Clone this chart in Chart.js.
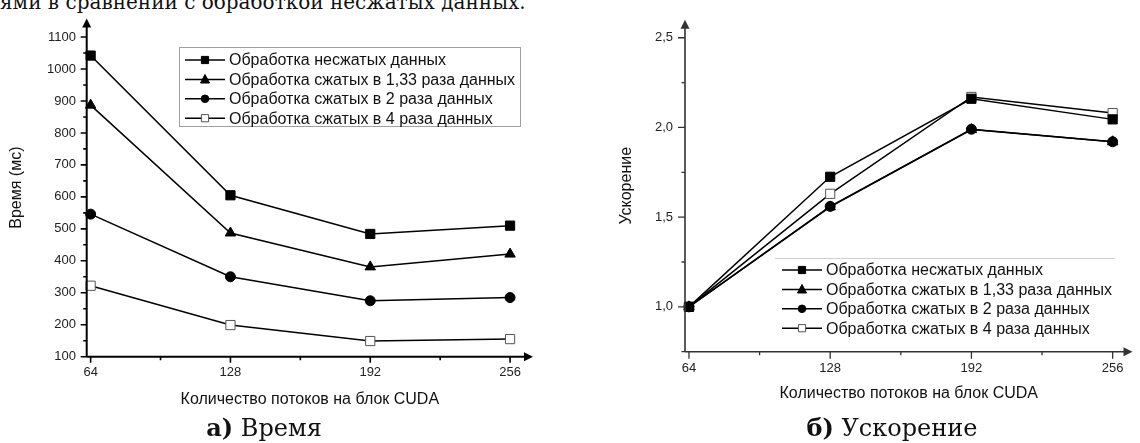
<!DOCTYPE html>
<html>
<head>
<meta charset="utf-8">
<script src="https://cdn.jsdelivr.net/npm/chart.js"></script>
<style>
  html, body { margin: 0; padding: 0; background: #fff; }
  #wrap { position: relative; width: 1140px; height: 443px; overflow: hidden; }
  canvas { position: absolute; top: 0; }
  #grafTiempo { left: 0; }
  #grafAcel { left: 570px; }
  .arriba { position: absolute; left: 0; top: -8px; font: 20px/20px "DejaVu Serif", serif; color: #111; white-space: nowrap; }
  .pie { position: absolute; top: 416px; font: 24px/24px "DejaVu Serif", serif; color: #111; white-space: nowrap; transform: translateX(-50%); }
  .pie b { font-weight: bold; }
</style>
</head>
<body>
<div id="wrap">
  <div class="arriba">ями в сравнении с обработкой несжатых данных.</div>
  <canvas id="grafTiempo" width="570" height="443"></canvas>
  <canvas id="grafAcel" width="570" height="443"></canvas>
  <div class="pie" style="left:264px"><b>а)</b> Время</div>
  <div class="pie" style="left:892px"><b>б)</b> Ускорение</div>
</div>
<script>
// datos
const threads = [64, 128, 192, 256];
const seriesLabels = [
  'Обработка несжатых данных',
  'Обработка сжатых в 1,33 раза данных',
  'Обработка сжатых в 2 раза данных',
  'Обработка сжатых в 4 раза данных'
];
const timeRaw = [1042, 605, 484, 510];
const time133 = [887, 487, 381, 421];
const time2 = [546, 350, 275, 285];
const time4 = [322, 199, 149, 155];

const speedRaw = [1.0, 1.725, 2.16, 2.045];
const speed133 = [1.0, 1.557, 1.988, 1.92];
const speed2 = [1.0, 1.56, 1.99, 1.92];
const speed4 = [1.0, 1.63, 2.17, 2.08];

const threadMajor = [64, 128, 192, 256];
const threadMinor = [96, 160, 224];
const timeMajor = [100, 200, 300, 400, 500, 600, 700, 800, 900, 1000, 1100];
const timeMinor = [150, 250, 350, 450, 550, 650, 750, 850, 950, 1050];
const speedMajor = [1.0, 1.5, 2.0, 2.5];
const speedMinor = [0.75, 1.25, 1.75, 2.25];

const FONT = '"Liberation Sans", Arial, sans-serif';

const estilos = [
  { pointStyle: 'rect', pointRadius: 6.5, pointBackgroundColor: '#000', pointBorderColor: '#000', order: 1 },
  { pointStyle: 'triangle', pointRadius: 6, pointBackgroundColor: '#000', pointBorderColor: '#000', order: 2 },
  { pointStyle: 'circle', pointRadius: 5, pointBackgroundColor: '#000', pointBorderColor: '#000', order: 0 },
  { pointStyle: 'rect', pointRadius: 6.5, pointBackgroundColor: '#fff', pointBorderColor: '#555', order: 3 }
];

function armarDatasets(series) {
  return series.map((vals, i) => Object.assign({
    label: seriesLabels[i],
    data: vals.map((v, k) => ({ x: threads[k], y: v })),
    borderColor: '#000',
    borderWidth: 1.5,
    pointBorderWidth: 1,
    tension: 0,
    clip: false
  }, estilos[i]));
}

function marcador(ctx, st, x, y, r, fill, stroke) {
  ctx.fillStyle = fill;
  ctx.strokeStyle = stroke;
  ctx.lineWidth = 1;
  ctx.beginPath();
  if (st === 'rect') {
    ctx.rect(x - r, y - r, 2 * r, 2 * r);
  } else if (st === 'triangle') {
    ctx.moveTo(x, y - r * 1.1);
    ctx.lineTo(x + r, y + r * 0.8);
    ctx.lineTo(x - r, y + r * 0.8);
    ctx.closePath();
  } else {
    ctx.arc(x, y, r, 0, Math.PI * 2);
  }
  ctx.fill();
  ctx.stroke();
}

// ejes con flechas y marcas menores
const ejesPlugin = {
  id: 'ejes',
  afterDraw(chart, args, o) {
    const ctx = chart.ctx;
    const a = chart.chartArea;
    const xs = chart.scales.x, ys = chart.scales.y;
    ctx.save();
    ctx.strokeStyle = o.color;
    ctx.fillStyle = o.color;
    ctx.lineWidth = o.width;
    ctx.beginPath();
    ctx.moveTo(a.left, a.bottom);
    ctx.lineTo(a.left, a.top + 4);
    ctx.moveTo(a.left, a.bottom);
    ctx.lineTo(a.right - 4, a.bottom);
    ctx.stroke();
    ctx.lineWidth = o.tickWidth;
    ctx.beginPath();
    o.xMajor.forEach(v => { const p = xs.getPixelForValue(v); ctx.moveTo(p, a.bottom); ctx.lineTo(p, a.bottom + o.major); });
    o.xMinor.forEach(v => { const p = xs.getPixelForValue(v); ctx.moveTo(p, a.bottom); ctx.lineTo(p, a.bottom + o.minor); });
    o.yMajor.forEach(v => { const p = ys.getPixelForValue(v); ctx.moveTo(a.left, p); ctx.lineTo(a.left - o.major, p); });
    o.yMinor.forEach(v => { const p = ys.getPixelForValue(v); ctx.moveTo(a.left, p); ctx.lineTo(a.left - o.minor, p); });
    ctx.stroke();
    // flechas
    ctx.beginPath();
    ctx.moveTo(a.left, a.top);
    ctx.lineTo(a.left + 4.5, a.top + 9);
    ctx.lineTo(a.left - 4.5, a.top + 9);
    ctx.closePath();
    ctx.moveTo(a.right, a.bottom);
    ctx.lineTo(a.right - 9, a.bottom - 4.5);
    ctx.lineTo(a.right - 9, a.bottom + 4.5);
    ctx.closePath();
    ctx.fill();
    ctx.restore();
  }
};

const leyendaPlugin = {
  id: 'leyenda',
  afterDraw(chart, args, o) {
    const ctx = chart.ctx;
    ctx.save();
    if (o.box) {
      ctx.strokeStyle = '#a0a0a0';
      ctx.lineWidth = 1;
      ctx.strokeRect(o.box[0] + 0.5, o.box[1] + 0.5, o.box[2], o.box[3]);
    }
    if (o.topLine) {
      ctx.strokeStyle = '#d0d0d0';
      ctx.lineWidth = 1;
      ctx.beginPath();
      ctx.moveTo(o.topLine[0], o.topLine[2] + 0.5);
      ctx.lineTo(o.topLine[1], o.topLine[2] + 0.5);
      ctx.stroke();
    }
    ctx.font = '16px ' + FONT;
    ctx.textBaseline = 'middle';
    ctx.textAlign = 'left';
    chart.data.datasets.forEach((ds, i) => {
      const y = o.y0 + i * o.dy;
      ctx.strokeStyle = '#000';
      ctx.lineWidth = 1.5;
      ctx.beginPath();
      ctx.moveTo(o.x0, y);
      ctx.lineTo(o.x0 + 40, y);
      ctx.stroke();
      const r = ds.pointStyle === 'circle' ? 3.8 : (ds.pointStyle === 'triangle' ? 4.5 : 3.6);
      marcador(ctx, ds.pointStyle, o.x0 + 20, y, r, ds.pointBackgroundColor, ds.pointBorderColor);
      ctx.fillStyle = '#111';
      ctx.fillText(ds.label, o.x0 + 44, y + 1);
    });
    ctx.restore();
  }
};

function armarGrafico(id, cfg) {
  const xTicks = cfg.xMajor.concat(cfg.xMinor).sort((a, b) => a - b);
  const yTicks = cfg.yMajor.concat(cfg.yMinor).sort((a, b) => a - b);
  return new Chart(document.getElementById(id), {
    type: 'line',
    data: { datasets: armarDatasets(cfg.series) },
    plugins: [ejesPlugin, leyendaPlugin],
    options: {
      responsive: false,
      animation: false,
      events: [],
      layout: { padding: { left: 0, top: 13, right: cfg.padRight, bottom: 0 } },
      plugins: {
        legend: { display: false },
        tooltip: { enabled: false },
        ejes: cfg.ejes,
        leyenda: cfg.leyenda
      },
      scales: {
        x: {
          type: 'linear',
          min: cfg.xMin,
          max: cfg.xMax,
          afterBuildTicks: s => { s.ticks = xTicks.map(v => ({ value: v })); },
          afterFit: s => { s.height = cfg.xHeight; },
          grid: { display: false, drawTicks: false },
          border: { display: false },
          ticks: {
            autoSkip: false,
            maxRotation: 0,
            padding: cfg.xPad,
            color: '#222',
            font: { family: FONT, size: 13 },
            callback: v => cfg.xMajor.includes(v) ? String(v) : ''
          },
          title: {
            display: true,
            text: 'Количество потоков на блок CUDA',
            color: '#111',
            font: { family: FONT, size: 16 },
            padding: { top: 0, bottom: cfg.xTitlePad }
          }
        },
        y: {
          type: 'linear',
          min: cfg.yMin,
          max: cfg.yMax,
          afterBuildTicks: s => { s.ticks = yTicks.map(v => ({ value: v })); },
          afterFit: s => { s.width = cfg.yWidth; },
          grid: { display: false, drawTicks: false },
          border: { display: false },
          ticks: {
            autoSkip: false,
            padding: cfg.yPad,
            color: '#222',
            font: { family: FONT, size: 13 },
            callback: v => cfg.yMajor.some(m => Math.abs(m - v) < 1e-6) ? cfg.fmt(v) : ''
          },
          title: {
            display: true,
            text: cfg.yTitle,
            color: '#111',
            font: { family: FONT, size: 16 },
            padding: { top: cfg.yTitlePad, bottom: 0 }
          }
        }
      }
    }
  });
}

armarGrafico('grafTiempo', {
  series: [timeRaw, time133, time2, time4],
  xMajor: threadMajor, xMinor: threadMinor,
  yMajor: timeMajor, yMinor: timeMinor,
  xMin: 62.2, xMax: 266.5, yMin: 100, yMax: 1158,
  padRight: 37, xHeight: 86.3, yWidth: 86.7,
  xPad: 8, yPad: 10.7, xTitlePad: 33.4, yTitlePad: 7.4,
  yTitle: 'Время (мс)',
  fmt: v => String(v),
  ejes: { color: '#000', width: 2, tickWidth: 1.6, major: 6, minor: 3.5, xMajor: threadMajor, xMinor: threadMinor, yMajor: timeMajor, yMinor: timeMinor },
  leyenda: { box: [179, 47, 341, 79], x0: 185, y0: 60, dy: 19.4 }
});

armarGrafico('grafAcel', {
  series: [speedRaw, speed133, speed2, speed4],
  xMajor: threadMajor, xMinor: threadMinor,
  yMajor: speedMajor, yMinor: speedMinor,
  xMin: 62.2, xMax: 265, yMin: 0.75, yMax: 2.6,
  padRight: 0, xHeight: 91.3, yWidth: 115,
  xPad: 9, yPad: 12, xTitlePad: 39.4, yTitlePad: 47.4,
  yTitle: 'Ускорение',
  fmt: v => v.toFixed(1).replace('.', ','),
  ejes: { color: '#333', width: 1.6, tickWidth: 1.3, major: 7, minor: 3.5, xMajor: threadMajor, xMinor: threadMinor, yMajor: speedMajor, yMinor: speedMinor },
  leyenda: { topLine: [205, 545, 258], x0: 212, y0: 270, dy: 19.4 }
});
</script>
</body>
</html>
